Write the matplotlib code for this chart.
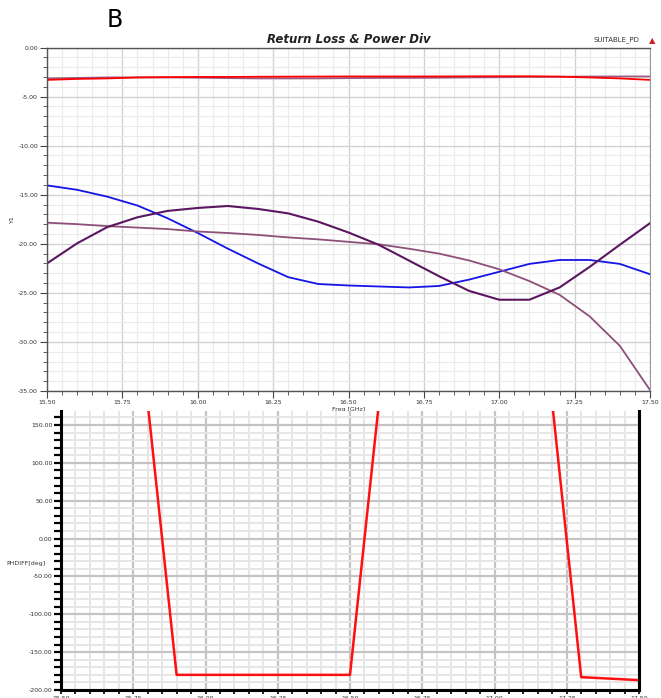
import numpy as np
import matplotlib
matplotlib.use("Agg")
import matplotlib.pyplot as plt
from matplotlib.ticker import MultipleLocator, FixedLocator

# frequency grid (GHz), 0.1 GHz steps
freq = [15.5, 15.6, 15.7, 15.8, 15.9, 16.0, 16.1, 16.2, 16.3, 16.4, 16.5,
        16.6, 16.7, 16.8, 16.9, 17.0, 17.1, 17.2, 17.3, 17.4, 17.5]

# top panel: power split and return losses (dB)
s21 = [-3.30, -3.20, -3.15, -3.05, -3.02, -3.00, -3.00, -2.98, -2.97, -2.96, -2.95,
       -2.95, -2.95, -2.95, -2.94, -2.93, -2.93, -2.97, -3.05, -3.15, -3.30]
s31 = [-3.15, -3.10, -3.05, -3.05, -3.05, -3.08, -3.12, -3.15, -3.15, -3.15, -3.12,
       -3.10, -3.10, -3.08, -3.05, -3.03, -3.00, -2.98, -2.96, -2.95, -2.95]
s11 = [-14.05, -14.5, -15.2, -16.1, -17.4, -18.9, -20.5, -22.0, -23.4, -24.1, -24.25,
       -24.35, -24.45, -24.3, -23.65, -22.85, -22.05, -21.65, -21.65, -22.05, -23.1]
s22 = [-22.0, -19.95, -18.3, -17.3, -16.65, -16.35, -16.15, -16.45, -16.9, -17.75, -18.85,
       -20.1, -21.7, -23.3, -24.8, -25.7, -25.7, -24.45, -22.35, -20.1, -17.9]
s33 = [-17.85, -18.0, -18.2, -18.35, -18.5, -18.75, -18.9, -19.1, -19.35, -19.55, -19.8,
       -20.05, -20.5, -21.0, -21.7, -22.6, -23.8, -25.2, -27.4, -30.4, -34.9]

# bottom panel: phase difference (deg)
phdiff = [175, 176, 177, 179, -180, -180, -180, -180, -180, -180, -180,
          179, 178, 178, 178, 178, 178, 178, -183, -185, -187]

top_yticks = [0, -5, -10, -15, -20, -25, -30, -35]
freq_ticks = [15.5, 15.75, 16.0, 16.25, 16.5, 16.75, 17.0, 17.25, 17.5]
bot_yticks = [150, 100, 50, 0, -50, -100, -150, -200]

W, H = 661, 698
fig = plt.figure(figsize=(W / 100, H / 100), dpi=100)


def box(left, top, right, bottom):
    return [left / W, 1 - bottom / H, (right - left) / W, (bottom - top) / H]


# ---- top panel ----
ax = fig.add_axes(box(47, 47.5, 650, 391))
ax.set_xlim(15.5, 17.5)
ax.set_ylim(-35, 0)
ax.xaxis.set_major_locator(FixedLocator(freq_ticks))
ax.xaxis.set_minor_locator(MultipleLocator(0.05))
ax.yaxis.set_major_locator(FixedLocator(top_yticks))
ax.yaxis.set_minor_locator(MultipleLocator(1))
ax.set_xticklabels([f"{v:.2f}" for v in freq_ticks], fontsize=4.5, color="#333333")
ax.set_yticklabels([f"{v:.2f}" for v in top_yticks], fontsize=4.5, color="#333333")
ax.grid(which="major", color="#d2d2d2", lw=1.0)
ax.grid(which="minor", color="#ebebeb", lw=0.8)
ax.set_axisbelow(True)
ax.tick_params(which="major", direction="out", length=5, width=0.8, color="#444444", pad=1.5)
ax.tick_params(which="minor", direction="out", length=3, width=0.6, color="#444444")
for side in ["left", "bottom", "top"]:
    ax.spines[side].set_color("#555555")
    ax.spines[side].set_linewidth(1.0)
ax.spines["right"].set_color("#999999")

ax.plot(freq, s31, color="#9a5e82", lw=1.3)
ax.plot(freq, s21, color="#ff0000", lw=1.3)
ax.plot(freq, s11, color="#1414e6", lw=1.3)
ax.plot(freq, s33, color="#8e4f78", lw=1.3)
ax.plot(freq, s22, color="#5a1660", lw=1.5)

ax.set_title("Return Loss & Power Div", fontsize=8.5, style="italic",
             fontweight="bold", color="#222222", pad=3)
ax.text(0.982, 1.012, "SUITABLE_PD", transform=ax.transAxes, fontsize=5,
        ha="right", va="bottom", color="#333333")
ax.text(0.998, 1.006, "\u25B2", transform=ax.transAxes, fontsize=6,
        ha="left", va="bottom", color="#d02020")
ax.set_ylabel("Y1", fontsize=4.5, color="#333333")
ax.yaxis.set_label_coords(-0.053, 0.5)
ax.text(16.5, -36.6, "Freq [GHz]", fontsize=4.5, ha="center", va="top", color="#333333")

fig.text(115 / W, 1 - 20 / H, "B", fontsize=17, ha="center", va="center")

# ---- bottom panel ----
bx = fig.add_axes(box(61, 411, 639, 690))
bx.set_xlim(15.5, 17.5)
bx.set_ylim(-200, 168.5)
bx.xaxis.set_major_locator(FixedLocator(freq_ticks))
bx.xaxis.set_minor_locator(MultipleLocator(0.05))
bx.yaxis.set_major_locator(FixedLocator(bot_yticks))
bx.yaxis.set_minor_locator(MultipleLocator(10))
bx.set_xticklabels([f"{v:.2f}" for v in freq_ticks], fontsize=4.5, color="#333333")
bx.set_yticklabels([f"{v:.2f}" for v in bot_yticks], fontsize=4.5, color="#333333")
bx.grid(which="major", color="#c4c4c4", lw=1.6)
bx.grid(which="minor", color="#e6e6e6", lw=1.4)
bx.set_axisbelow(True)
bx.tick_params(which="both", direction="out", length=5, width=1.6, color="black", pad=1)
bx.tick_params(axis="x", which="both", length=3, width=1.2)
bx.spines["top"].set_visible(False)
for side in ["left", "bottom", "right"]:
    bx.spines[side].set_color("black")
    bx.spines[side].set_linewidth(2.2)

bx.plot(freq, phdiff, color="#ff1010", lw=1.8)
bx.text(-0.06, 0.455, "PHDIFF[deg]", transform=bx.transAxes, fontsize=4.5,
        ha="center", va="center", color="#333333")

fig.savefig("out.png", dpi=100)
